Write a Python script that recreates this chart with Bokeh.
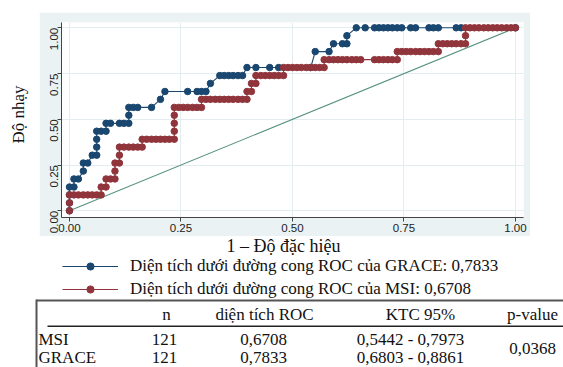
import math
from bokeh.plotting import figure
from bokeh.layouts import row, column
from bokeh.models import (Label, BoxAnnotation, Legend, LegendItem, Range1d,
                          FixedTicker, NumeralTickFormatter, Spacer)
from bokeh.embed import file_html
from bokeh.resources import INLINE

# ---------------- data ----------------
grace_fpr = [0.000, 0.000, 0.000, 0.000, 0.010, 0.010, 0.020, 0.031, 0.031, 0.041,
             0.051, 0.061, 0.061, 0.061, 0.061, 0.071, 0.082, 0.082, 0.092, 0.112,
             0.122, 0.133, 0.133, 0.133, 0.143, 0.153, 0.184, 0.204, 0.214, 0.265,
             0.286, 0.296, 0.306, 0.316, 0.337, 0.347, 0.357, 0.367, 0.378, 0.388,
             0.398, 0.418, 0.449, 0.469, 0.541, 0.551, 0.582, 0.592, 0.612, 0.622,
             0.622, 0.643, 0.663, 0.684, 0.694, 0.704, 0.714, 0.724, 0.735, 0.745,
             0.765, 0.776, 0.806, 0.816, 0.827, 0.867, 0.878, 1.000]
grace_tpr = [0.000, 0.043, 0.087, 0.130, 0.130, 0.174, 0.174, 0.217, 0.261, 0.261,
             0.304, 0.304, 0.348, 0.391, 0.435, 0.435, 0.435, 0.478, 0.478, 0.478,
             0.478, 0.478, 0.522, 0.565, 0.565, 0.565, 0.565, 0.609, 0.652, 0.652,
             0.652, 0.652, 0.652, 0.696, 0.739, 0.739, 0.739, 0.739, 0.739, 0.739,
             0.783, 0.783, 0.783, 0.783, 0.783, 0.870, 0.870, 0.913, 0.913, 0.913,
             0.957, 1.000, 1.000, 1.000, 1.000, 1.000, 1.000, 1.000, 1.000, 1.000,
             1.000, 1.000, 1.000, 1.000, 1.000, 1.000, 1.000, 1.000]

msi_fpr = [0.000, 0.000, 0.000, 0.010, 0.020, 0.031, 0.041, 0.051, 0.061, 0.071,
           0.071, 0.082, 0.082, 0.092, 0.102, 0.102, 0.102, 0.112, 0.112, 0.112,
           0.122, 0.133, 0.143, 0.153, 0.163, 0.163, 0.173, 0.184, 0.194, 0.204,
           0.214, 0.224, 0.235, 0.235, 0.235, 0.235, 0.235, 0.245, 0.255, 0.265,
           0.276, 0.286, 0.296, 0.296, 0.306, 0.316, 0.327, 0.337, 0.347, 0.357,
           0.367, 0.378, 0.388, 0.398, 0.398, 0.408, 0.408, 0.418, 0.418, 0.429,
           0.439, 0.449, 0.459, 0.469, 0.480, 0.480, 0.490, 0.500, 0.510, 0.520,
           0.531, 0.541, 0.551, 0.561, 0.571, 0.571, 0.582, 0.592, 0.602, 0.612,
           0.622, 0.633, 0.643, 0.653, 0.684, 0.694, 0.704, 0.714, 0.724, 0.735,
           0.735, 0.745, 0.755, 0.765, 0.776, 0.786, 0.796, 0.806, 0.816, 0.827,
           0.827, 0.837, 0.847, 0.857, 0.867, 0.878, 0.888, 0.888, 0.888, 0.898,
           0.908, 0.918, 0.929, 0.939, 0.949, 0.959, 0.969, 0.980, 0.990, 1.000]
msi_tpr = [0.000, 0.043, 0.087, 0.087, 0.087, 0.087, 0.087, 0.087, 0.087, 0.087,
           0.130, 0.130, 0.174, 0.174, 0.174, 0.217, 0.261, 0.261, 0.304, 0.348,
           0.348, 0.348, 0.348, 0.348, 0.348, 0.391, 0.391, 0.391, 0.391, 0.391,
           0.391, 0.391, 0.391, 0.435, 0.478, 0.522, 0.565, 0.565, 0.565, 0.565,
           0.565, 0.565, 0.565, 0.609, 0.609, 0.609, 0.609, 0.609, 0.609, 0.609,
           0.609, 0.609, 0.609, 0.609, 0.652, 0.652, 0.696, 0.696, 0.739, 0.739,
           0.739, 0.739, 0.739, 0.739, 0.739, 0.783, 0.783, 0.783, 0.783, 0.783,
           0.783, 0.783, 0.783, 0.783, 0.783, 0.826, 0.826, 0.826, 0.826, 0.826,
           0.826, 0.826, 0.826, 0.826, 0.826, 0.826, 0.826, 0.826, 0.826, 0.826,
           0.870, 0.870, 0.870, 0.870, 0.870, 0.870, 0.870, 0.870, 0.870, 0.870,
           0.913, 0.913, 0.913, 0.913, 0.913, 0.913, 0.913, 0.957, 1.000, 1.000,
           1.000, 1.000, 1.000, 1.000, 1.000, 1.000, 1.000, 1.000, 1.000, 1.000]

ref_x = [0.0, 1.0]
ref_y = [0.0, 1.0]

tick_values = [0.0, 0.25, 0.5, 0.75, 1.0]

legend_labels = ["Diện tích dưới đường cong ROC của GRACE: 0,7833",
                 "Diện tích dưới đường cong ROC của MSI: 0,6708"]
x_title = "1 – Độ đặc hiệu"
y_title = "Độ nhạy"

table_header = ["n", "diện tích ROC", "KTC 95%", "p-value"]
table_rows = ["MSI", "GRACE"]
table_n = ["121", "121"]
table_auc = ["0,6708", "0,7833"]
table_ci = ["0,5442 - 0,7973", "0,6803 - 0,8861"]
table_p = "0,0368"

# ---------------- styles ----------------
BLUE = "#1A476F"
RED = "#90353B"
DIAG = "#55917F"
BAND = "#EAF2F3"
SERIF = "Liberation Serif"
SANS = "Liberation Sans"
INK = "#111111"
NAN = float("nan")


def blank(width, height, x0, x1, y_bottom, y_top):
    """A figure without axes whose frame is its whole canvas (page-pixel ranges)."""
    f = figure(width=width, height=height, output_backend="svg",
               toolbar_location=None, title=None,
               x_axis_location=None, y_axis_location=None,
               x_range=Range1d(x0, x1), y_range=Range1d(y_bottom, y_top),
               min_border=0)
    f.outline_line_color = None
    f.grid.visible = False
    f.background_fill_color = "white"
    f.border_fill_color = "white"
    return f


# ---- left strip: y title ----
pl = blank(39, 236, 0, 39, 236, 0)
pl.add_layout(Label(x=18, y=114, text=y_title, angle=math.pi / 2,
                    text_font=SERIF, text_font_size="17px", text_color=INK,
                    text_align="center", text_baseline="middle"))

# ---- ROC chart ----
pc = figure(width=491, height=224, output_backend="svg", toolbar_location=None,
            title=None,
            x_range=Range1d(-0.0179, 1.018), y_range=Range1d(-0.0366, 1.029),
            min_border_left=22, min_border_right=7,
            min_border_top=10, min_border_bottom=19)
pc.outline_line_color = None
pc.background_fill_color = "white"
pc.border_fill_color = BAND

for ax in (pc.xaxis[0], pc.yaxis[0]):
    ax.ticker = FixedTicker(ticks=tick_values)
    ax.formatter = NumeralTickFormatter(format="0.00")
    ax.axis_line_color = "#444444"
    ax.major_tick_line_color = "#444444"
    ax.major_tick_out = 4
    ax.major_tick_in = 0
    ax.minor_tick_line_color = None
    ax.major_label_text_font = SANS
    ax.major_label_text_font_size = "11.5px"
    ax.major_label_text_color = "#222222"
    ax.major_label_standoff = 2
pc.yaxis[0].major_label_orientation = math.pi / 2
pc.yaxis[0].major_label_standoff = 3

for g in pc.grid:
    g.ticker = FixedTicker(ticks=tick_values)
    g.grid_line_color = "#E3ECEE"
    g.grid_line_width = 1

pc.line(ref_x, ref_y, line_color=DIAG, line_width=1.1)
pc.line(grace_fpr, grace_tpr, line_color=BLUE, line_width=1.1)
pc.scatter(grace_fpr, grace_tpr, size=6.5, fill_color=BLUE, line_color=BLUE)
pc.line(msi_fpr, msi_tpr, line_color=RED, line_width=1.1)
pc.scatter(msi_fpr, msi_tpr, size=6.5, fill_color=RED, line_color=RED)

# ---- bottom block: x title, legend, table ----
pb = blank(563, 131, 0, 563, 367, 236)


def lab(x, y, text, size="17px", align="center"):
    pb.add_layout(Label(x=x, y=y, text=text, text_font=SERIF,
                        text_font_size=size, text_color=INK,
                        text_align=align, text_baseline="middle"))


lab(283, 245, x_title, size="18px")

# legend keys: renderers holding no visible point, only used by the legend
gl = pb.line(x=[NAN], y=[NAN], line_color=BLUE, line_width=1.2)
gp = pb.scatter(x=[NAN], y=[NAN], size=6.5, fill_color=BLUE, line_color=BLUE)
ml = pb.line(x=[NAN], y=[NAN], line_color=RED, line_width=1.2)
mp = pb.scatter(x=[NAN], y=[NAN], size=6.5, fill_color=RED, line_color=RED)
legend = Legend(items=[LegendItem(label=legend_labels[0], renderers=[gl, gp]),
                       LegendItem(label=legend_labels[1], renderers=[ml, mp])],
                location=(62, 68), orientation="vertical",
                glyph_width=56, glyph_height=18, label_height=18, spacing=3,
                padding=0, margin=0, label_standoff=12,
                border_line_color=None, background_fill_alpha=0,
                label_text_font=SERIF, label_text_font_size="17px",
                label_text_color=INK)
pb.add_layout(legend)

# table rules
pb.add_layout(BoxAnnotation(left=36, right=563, top=299, bottom=301,
                            fill_color="#555555", fill_alpha=1, line_alpha=0))
pb.add_layout(BoxAnnotation(left=35, right=37, top=299, bottom=370,
                            fill_color="#555555", fill_alpha=1, line_alpha=0))
pb.add_layout(BoxAnnotation(left=47, right=563, top=325, bottom=326.5,
                            fill_color="#222222", fill_alpha=1, line_alpha=0))

col_x = [166, 264, 420, 532]
for x, t in zip(col_x, table_header):
    lab(x, 314, t)
row_y = [339, 357]
for i in range(len(table_rows)):
    lab(38, row_y[i], table_rows[i], align="left")
    lab(164, row_y[i], table_n[i])
    lab(263, row_y[i], table_auc[i])
    lab(410, row_y[i], table_ci[i])
lab(532, 348, table_p)

layout = column(row(pl, column(Spacer(width=491, height=12), pc)), pb)

open("out.html", "w").write(file_html(layout, INLINE))
